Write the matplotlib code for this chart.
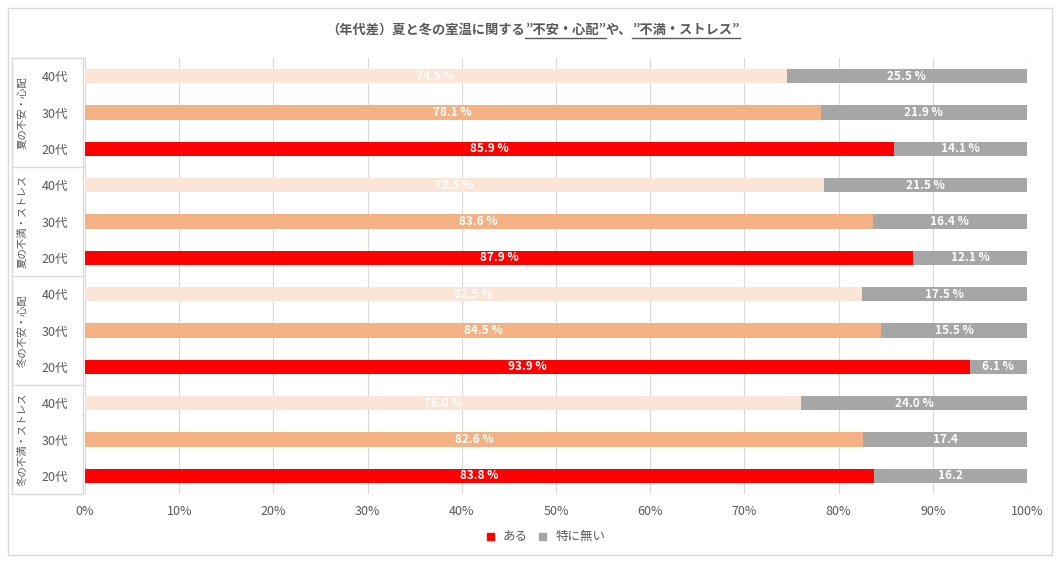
import numpy as np
import matplotlib
matplotlib.use("Agg")
from matplotlib import pyplot as plt
from matplotlib.patches import Rectangle
import matplotlib.transforms as mtransforms

plt.rcParams['font.family'] = ['Noto Sans CJK JP', 'DejaVu Sans']

groups = ['夏の不安・心配', '夏の不満・ストレス', '冬の不安・心配', '冬の不満・ストレス']
ages = ['40代', '30代', '20代']
aru = [74.5, 78.1, 85.9, 78.5, 83.6, 87.9, 82.5, 84.5, 93.9, 76.0, 82.6, 83.8]
nai = [25.5, 21.9, 14.1, 21.5, 16.4, 12.1, 17.5, 15.5, 6.1, 24.0, 17.4, 16.2]
nai_labels = ['25.5 %', '21.9 %', '14.1 %', '21.5 %', '16.4 %', '12.1 %',
              '17.5 %', '15.5 %', '6.1 %', '24.0 %', '17.4', '16.2']

age_colors = ['#FBE5D6', '#F4B183', '#FF0000']
gray = '#A6A6A6'
txt_gray = '#595959'

fig = plt.figure(figsize=(10.63, 5.65), dpi=100)
fig.patches.append(Rectangle((8 / 1063, 1 - 555 / 565), 1044 / 1063, 547 / 565,
                             transform=fig.transFigure, fill=False,
                             edgecolor='#D9D9D9', lw=1))
ax = fig.add_axes([85 / 1063, 1 - 494 / 565, 942 / 1063, 436 / 565])

n = len(aru)
y = np.arange(n)
colors = [age_colors[i % 3] for i in range(n)]
ax.barh(y, aru, height=0.4, color=colors, zorder=3)
ax.barh(y, nai, left=aru, height=0.4, color=gray, zorder=3)

for i in range(n):
    ax.text(aru[i] / 2, y[i], f'{aru[i]:.1f} %', ha='center', va='center',
            color='white', fontsize=8.5, fontweight='bold', zorder=4)
    ax.text(aru[i] + nai[i] / 2, y[i], nai_labels[i], ha='center', va='center',
            color='white', fontsize=8.5, fontweight='bold', zorder=4)

ax.set_xlim(0, 100)
ax.set_ylim(n - 0.5, -0.5)
ax.set_xticks(np.arange(0, 101, 10))
ax.set_xticklabels([f'{v}%' for v in range(0, 101, 10)])
ax.set_yticks(y)
ax.set_yticklabels(ages * 4)
ax.tick_params(axis='both', length=0, colors=txt_gray, labelsize=9)
ax.tick_params(axis='y', pad=12)
ax.tick_params(axis='x', pad=8)
ax.grid(axis='x', color='#D9D9D9', lw=0.8, zorder=0)
for s in ax.spines.values():
    s.set_visible(False)

# label table on the left
trans = mtransforms.blended_transform_factory(ax.transAxes, ax.transData)
x0, x1 = -0.077, -0.002
line_kw = dict(transform=trans, color='#D9D9D9', lw=1, clip_on=False)
ax.plot([x0, x0], [-0.5, n - 0.5], **line_kw)
ax.plot([x1, x1], [-0.5, n - 0.5], **line_kw)
for k in range(len(groups) + 1):
    yy = k * 3 - 0.5
    ax.plot([x0, x1], [yy, yy], **line_kw)
for k, g in enumerate(groups):
    ax.text(-0.066, k * 3 + 1, g, transform=trans, rotation=90,
            ha='center', va='center', color=txt_gray, fontsize=7.5)

# title with underlined parts
parts = [('（年代差）夏と冬の室温に関する', False), ('”不安・心配”', True),
         ('や、', False), ('”不満・ストレス”', True)]
fig.canvas.draw()
renderer = fig.canvas.get_renderer()
texts = []
widths = []
for s, u in parts:
    t = fig.text(0, 0.947, s, fontsize=9.5, fontweight='bold', color=txt_gray,
                 va='center', ha='left')
    bb = t.get_window_extent(renderer)
    texts.append(t)
    widths.append(bb.width)
total = sum(widths)
xpix = 533 - total / 2
for (s, u), t, w in zip(parts, texts, widths):
    t.set_x(xpix / 1063)
    if u:
        yl = 0.947 - 8 / 565
        fig.add_artist(plt.Line2D([xpix / 1063, (xpix + w) / 1063], [yl, yl],
                                  transform=fig.transFigure, color=txt_gray, lw=1))
    xpix += w

# legend
fig.patches.append(Rectangle((487 / 1063, 1 - 540 / 565), 7 / 1063, 7 / 565,
                             transform=fig.transFigure, color='#FF0000'))
fig.text(503 / 1063, 1 - 536 / 565, 'ある', fontsize=9, color=txt_gray, va='center')
fig.patches.append(Rectangle((539 / 1063, 1 - 540 / 565), 7 / 1063, 7 / 565,
                             transform=fig.transFigure, color=gray))
fig.text(556 / 1063, 1 - 536 / 565, '特に無い', fontsize=9, color=txt_gray, va='center')

fig.savefig('out.png', dpi=100)
